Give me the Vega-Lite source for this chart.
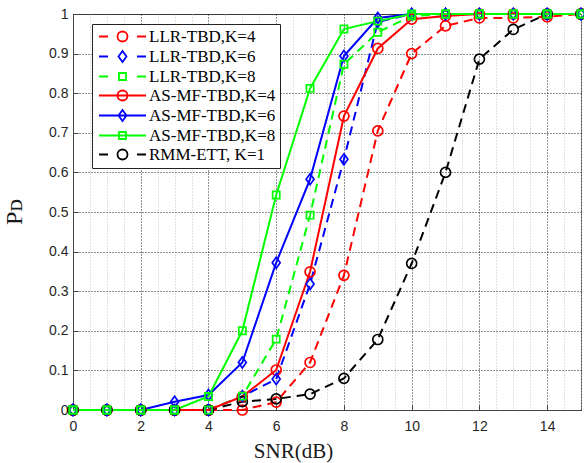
{
  "$schema": "https://vega.github.io/schema/vega-lite/v6.json",
  "width": 508,
  "height": 396,
  "autosize": {"type": "none"},
  "padding": {"left": 73, "top": 14, "right": 3, "bottom": 53},
  "background": "white",
  "title": {"text": "Pᴅ", "orient": "left", "anchor": "middle", "angle": 270, "baseline": "bottom", "font": "Liberation Serif", "fontSize": 24, "fontWeight": "normal", "color": "#1a1a1a", "offset": -2},
  "config": {
    "view": {"stroke": "#444", "strokeWidth": 1},
    "axis": {"labelFont": "Liberation Sans", "labelFontSize": 14, "labelColor": "#262626", "titleFont": "Liberation Serif", "titleFontWeight": "normal", "titleColor": "#1a1a1a", "domainColor": "#444", "tickColor": "#444"},
    "legend": {"title": null, "orient": "none", "legendX": 19, "legendY": 10, "padding": 4, "rowPadding": 1,
            "fillColor": "white", "strokeColor": "#222", "cornerRadius": 0,
            "labelFont": "Liberation Serif", "labelFontSize": 17, "labelColor": "#000", "labelLimit": 300,
            "symbolSize": 100, "symbolStrokeWidth": 1.8, "symbolOpacity": 1, "symbolFillColor": "transparent", "symbolOffset": 18, "labelOffset": 18}
  },
  "data": {
    "values": [
      {"snr": 0, "pd": 0, "s": "LLR-TBD,K=4"}, {"snr": 1, "pd": 0, "s": "LLR-TBD,K=4"}, {"snr": 2, "pd": 0, "s": "LLR-TBD,K=4"}, {"snr": 3, "pd": 0, "s": "LLR-TBD,K=4"}, {"snr": 4, "pd": 0, "s": "LLR-TBD,K=4"}, {"snr": 5, "pd": 0, "s": "LLR-TBD,K=4"}, {"snr": 6, "pd": 0.02, "s": "LLR-TBD,K=4"}, {"snr": 7, "pd": 0.12, "s": "LLR-TBD,K=4"}, {"snr": 8, "pd": 0.34, "s": "LLR-TBD,K=4"}, {"snr": 9, "pd": 0.705, "s": "LLR-TBD,K=4"}, {"snr": 10, "pd": 0.9, "s": "LLR-TBD,K=4"}, {"snr": 11, "pd": 0.97, "s": "LLR-TBD,K=4"}, {"snr": 12, "pd": 0.99, "s": "LLR-TBD,K=4"}, {"snr": 13, "pd": 0.99, "s": "LLR-TBD,K=4"}, {"snr": 14, "pd": 0.993, "s": "LLR-TBD,K=4"}, {"snr": 15, "pd": 1, "s": "LLR-TBD,K=4"},
      {"snr": 0, "pd": 0, "s": "LLR-TBD,K=6"}, {"snr": 1, "pd": 0, "s": "LLR-TBD,K=6"}, {"snr": 2, "pd": 0, "s": "LLR-TBD,K=6"}, {"snr": 3, "pd": 0, "s": "LLR-TBD,K=6"}, {"snr": 4, "pd": 0, "s": "LLR-TBD,K=6"}, {"snr": 5, "pd": 0.035, "s": "LLR-TBD,K=6"}, {"snr": 6, "pd": 0.078, "s": "LLR-TBD,K=6"}, {"snr": 7, "pd": 0.318, "s": "LLR-TBD,K=6"}, {"snr": 8, "pd": 0.633, "s": "LLR-TBD,K=6"}, {"snr": 9, "pd": 0.98, "s": "LLR-TBD,K=6"}, {"snr": 10, "pd": 1, "s": "LLR-TBD,K=6"}, {"snr": 11, "pd": 1, "s": "LLR-TBD,K=6"}, {"snr": 12, "pd": 1, "s": "LLR-TBD,K=6"}, {"snr": 13, "pd": 1, "s": "LLR-TBD,K=6"}, {"snr": 14, "pd": 1, "s": "LLR-TBD,K=6"}, {"snr": 15, "pd": 1, "s": "LLR-TBD,K=6"},
      {"snr": 0, "pd": 0, "s": "LLR-TBD,K=8"}, {"snr": 1, "pd": 0, "s": "LLR-TBD,K=8"}, {"snr": 2, "pd": 0, "s": "LLR-TBD,K=8"}, {"snr": 3, "pd": 0, "s": "LLR-TBD,K=8"}, {"snr": 4, "pd": 0, "s": "LLR-TBD,K=8"}, {"snr": 5, "pd": 0.035, "s": "LLR-TBD,K=8"}, {"snr": 6, "pd": 0.179, "s": "LLR-TBD,K=8"}, {"snr": 7, "pd": 0.492, "s": "LLR-TBD,K=8"}, {"snr": 8, "pd": 0.873, "s": "LLR-TBD,K=8"}, {"snr": 9, "pd": 0.954, "s": "LLR-TBD,K=8"}, {"snr": 10, "pd": 0.995, "s": "LLR-TBD,K=8"}, {"snr": 11, "pd": 1, "s": "LLR-TBD,K=8"}, {"snr": 12, "pd": 1, "s": "LLR-TBD,K=8"}, {"snr": 13, "pd": 1, "s": "LLR-TBD,K=8"}, {"snr": 14, "pd": 1, "s": "LLR-TBD,K=8"}, {"snr": 15, "pd": 1, "s": "LLR-TBD,K=8"},
      {"snr": 0, "pd": 0, "s": "AS-MF-TBD,K=4"}, {"snr": 1, "pd": 0, "s": "AS-MF-TBD,K=4"}, {"snr": 2, "pd": 0, "s": "AS-MF-TBD,K=4"}, {"snr": 3, "pd": 0, "s": "AS-MF-TBD,K=4"}, {"snr": 4, "pd": 0, "s": "AS-MF-TBD,K=4"}, {"snr": 5, "pd": 0.034, "s": "AS-MF-TBD,K=4"}, {"snr": 6, "pd": 0.101, "s": "AS-MF-TBD,K=4"}, {"snr": 7, "pd": 0.349, "s": "AS-MF-TBD,K=4"}, {"snr": 8, "pd": 0.742, "s": "AS-MF-TBD,K=4"}, {"snr": 9, "pd": 0.913, "s": "AS-MF-TBD,K=4"}, {"snr": 10, "pd": 0.987, "s": "AS-MF-TBD,K=4"}, {"snr": 11, "pd": 0.995, "s": "AS-MF-TBD,K=4"}, {"snr": 12, "pd": 1, "s": "AS-MF-TBD,K=4"}, {"snr": 13, "pd": 1, "s": "AS-MF-TBD,K=4"}, {"snr": 14, "pd": 1, "s": "AS-MF-TBD,K=4"}, {"snr": 15, "pd": 1, "s": "AS-MF-TBD,K=4"},
      {"snr": 0, "pd": 0, "s": "AS-MF-TBD,K=6"}, {"snr": 1, "pd": 0, "s": "AS-MF-TBD,K=6"}, {"snr": 2, "pd": 0, "s": "AS-MF-TBD,K=6"}, {"snr": 3, "pd": 0.021, "s": "AS-MF-TBD,K=6"}, {"snr": 4, "pd": 0.038, "s": "AS-MF-TBD,K=6"}, {"snr": 5, "pd": 0.12, "s": "AS-MF-TBD,K=6"}, {"snr": 6, "pd": 0.372, "s": "AS-MF-TBD,K=6"}, {"snr": 7, "pd": 0.583, "s": "AS-MF-TBD,K=6"}, {"snr": 8, "pd": 0.894, "s": "AS-MF-TBD,K=6"}, {"snr": 9, "pd": 0.99, "s": "AS-MF-TBD,K=6"}, {"snr": 10, "pd": 1, "s": "AS-MF-TBD,K=6"}, {"snr": 11, "pd": 1, "s": "AS-MF-TBD,K=6"}, {"snr": 12, "pd": 1, "s": "AS-MF-TBD,K=6"}, {"snr": 13, "pd": 1, "s": "AS-MF-TBD,K=6"}, {"snr": 14, "pd": 1, "s": "AS-MF-TBD,K=6"}, {"snr": 15, "pd": 1, "s": "AS-MF-TBD,K=6"},
      {"snr": 0, "pd": 0, "s": "AS-MF-TBD,K=8"}, {"snr": 1, "pd": 0, "s": "AS-MF-TBD,K=8"}, {"snr": 2, "pd": 0, "s": "AS-MF-TBD,K=8"}, {"snr": 3, "pd": 0, "s": "AS-MF-TBD,K=8"}, {"snr": 4, "pd": 0.034, "s": "AS-MF-TBD,K=8"}, {"snr": 5, "pd": 0.2, "s": "AS-MF-TBD,K=8"}, {"snr": 6, "pd": 0.543, "s": "AS-MF-TBD,K=8"}, {"snr": 7, "pd": 0.812, "s": "AS-MF-TBD,K=8"}, {"snr": 8, "pd": 0.962, "s": "AS-MF-TBD,K=8"}, {"snr": 9, "pd": 0.982, "s": "AS-MF-TBD,K=8"}, {"snr": 10, "pd": 1, "s": "AS-MF-TBD,K=8"}, {"snr": 11, "pd": 1, "s": "AS-MF-TBD,K=8"}, {"snr": 12, "pd": 1, "s": "AS-MF-TBD,K=8"}, {"snr": 13, "pd": 1, "s": "AS-MF-TBD,K=8"}, {"snr": 14, "pd": 1, "s": "AS-MF-TBD,K=8"}, {"snr": 15, "pd": 1, "s": "AS-MF-TBD,K=8"},
      {"snr": 0, "pd": 0, "s": "RMM-ETT, K=1"}, {"snr": 1, "pd": 0, "s": "RMM-ETT, K=1"}, {"snr": 2, "pd": 0, "s": "RMM-ETT, K=1"}, {"snr": 3, "pd": 0, "s": "RMM-ETT, K=1"}, {"snr": 4, "pd": 0, "s": "RMM-ETT, K=1"}, {"snr": 5, "pd": 0.021, "s": "RMM-ETT, K=1"}, {"snr": 6, "pd": 0.028, "s": "RMM-ETT, K=1"}, {"snr": 7, "pd": 0.04, "s": "RMM-ETT, K=1"}, {"snr": 8, "pd": 0.08, "s": "RMM-ETT, K=1"}, {"snr": 9, "pd": 0.178, "s": "RMM-ETT, K=1"}, {"snr": 10, "pd": 0.37, "s": "RMM-ETT, K=1"}, {"snr": 11, "pd": 0.6, "s": "RMM-ETT, K=1"}, {"snr": 12, "pd": 0.886, "s": "RMM-ETT, K=1"}, {"snr": 13, "pd": 0.961, "s": "RMM-ETT, K=1"}, {"snr": 14, "pd": 1, "s": "RMM-ETT, K=1"}, {"snr": 15, "pd": 1, "s": "RMM-ETT, K=1"}
    ]
  },
  "encoding": {
    "x": {"field": "snr", "type": "quantitative", "scale": {"domain": [0, 15], "nice": false, "zero": false},
      "axis": {"orient": "bottom", "values": [0,0.5,1,1.5,2,2.5,3,3.5,4,4.5,5,5.5,6,6.5,7,7.5,8,8.5,9,9.5,10,10.5,11,11.5,12,12.5,13,13.5,14,14.5,15],
        "grid": true, "gridColor": {"condition": {"test": "datum.value % 2 === 0", "value": "#222"}, "value": "#c4c4c4"}, "gridDash": [1, 2], "gridWidth": 1,
        "tickSize": -5, "tickOpacity": {"condition": {"test": "datum.value % 2 === 0 && datum.value < 15", "value": 1}, "value": 0},
        "labelExpr": "datum.value % 2 === 0 ? '' + datum.value : ''", "labelPadding": 14, "labelFlush": false, "labelOverlap": false,
        "title": "SNR(dB)", "titleFontSize": 21, "titleX": 220, "titlePadding": 7}},
    "y": {"field": "pd", "type": "quantitative", "scale": {"domain": [0, 1], "nice": false},
      "axis": {"orient": "left", "values": [0,0.1,0.2,0.3,0.4,0.5,0.6,0.7,0.8,0.9,1],
        "grid": true, "gridColor": "#222", "gridDash": [1, 2], "gridWidth": 1,
        "tickSize": -5, "labelExpr": "'' + datum.value", "labelPadding": 10, "labelFlush": false, "labelOverlap": false,
        "title": null}},
    "color": {"field": "s", "type": "nominal",
      "scale": {"domain": ["LLR-TBD,K=4","LLR-TBD,K=6","LLR-TBD,K=8","AS-MF-TBD,K=4","AS-MF-TBD,K=6","AS-MF-TBD,K=8","RMM-ETT, K=1"],
                "range": ["#ff0000","#0000ff","#00ff00","#ff0000","#0000ff","#00ff00","#000000"]}}
  },
  "layer": [
    {
      "transform": [{"filter": "indexof(['LLR-TBD,K=4','LLR-TBD,K=6','LLR-TBD,K=8','RMM-ETT, K=1'], datum.s) >= 0"}],
      "mark": {"type": "line", "strokeWidth": 2, "strokeDash": [9, 6], "clip": false}
    },
    {
      "transform": [{"filter": "indexof(['AS-MF-TBD,K=4','AS-MF-TBD,K=6','AS-MF-TBD,K=8'], datum.s) >= 0"}],
      "mark": {"type": "line", "strokeWidth": 2, "clip": false}
    },
    {
      "transform": [{"filter": "indexof(['LLR-TBD,K=4','AS-MF-TBD,K=4','RMM-ETT, K=1'], datum.s) >= 0"}],
      "mark": {"type": "point", "shape": "M0.91,0A0.91,0.91,0,1,1,-0.91,0A0.91,0.91,0,1,1,0.91,0", "filled": false, "strokeWidth": 1.7, "opacity": 1, "size": 121, "clip": false}
    },
    {
      "transform": [{"filter": "indexof(['LLR-TBD,K=6','AS-MF-TBD,K=6'], datum.s) >= 0"}],
      "mark": {"type": "point", "shape": "M0,-1L0.72,0L0,1L-0.72,0Z", "filled": false, "strokeWidth": 1.7, "opacity": 1, "size": 121, "clip": false}
    },
    {
      "transform": [{"filter": "indexof(['LLR-TBD,K=8','AS-MF-TBD,K=8'], datum.s) >= 0"}],
      "mark": {"type": "point", "shape": "M-0.65,-0.65H0.65V0.65H-0.65Z", "filled": false, "strokeWidth": 1.7, "opacity": 1, "size": 121, "clip": false}
    },
    {
      "transform": [{"filter": "datum.snr > 100"}],
      "mark": {"type": "point", "filled": false, "strokeWidth": 1.8, "opacity": 1, "size": 100},
      "encoding": {
        "shape": {"field": "s", "type": "nominal",
          "scale": {"domain": ["LLR-TBD,K=4","LLR-TBD,K=6","LLR-TBD,K=8","AS-MF-TBD,K=4","AS-MF-TBD,K=6","AS-MF-TBD,K=8","RMM-ETT, K=1"],
                    "range": ["M-4.7,0H-2.9M2.9,0H4.7M1,0A1,1,0,1,1,-1,0A1,1,0,1,1,1,0","M-4.7,0H-2.9M2.9,0H4.7M0,-1.1L0.8,0L0,1.1L-0.8,0Z","M-4.7,0H-2.9M2.9,0H4.7M-0.7,-0.7H0.7V0.7H-0.7Z","M-4.7,0H4.7M1,0A1,1,0,1,1,-1,0A1,1,0,1,1,1,0","M-4.7,0H4.7M0,-1.1L0.8,0L0,1.1L-0.8,0Z","M-4.7,0H4.7M-0.7,-0.7H0.7V0.7H-0.7Z","M-4.7,0H-2.9M2.9,0H4.7M1,0A1,1,0,1,1,-1,0A1,1,0,1,1,1,0"]}}
      }
    }
  ]
}
